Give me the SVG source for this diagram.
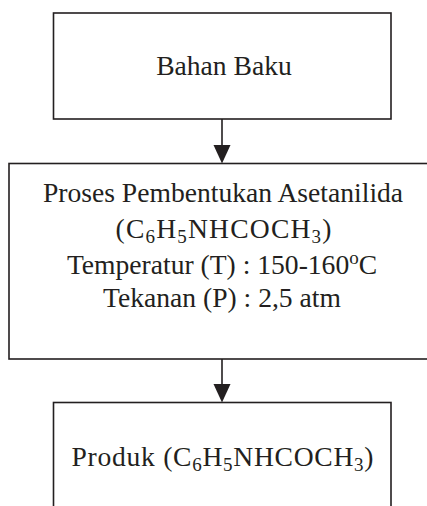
<svg xmlns="http://www.w3.org/2000/svg" width="427" height="506" viewBox="0 0 427 506">
  <style>
    .box { fill: #ffffff; stroke: #231f20; stroke-width: 1.6; }
    .wire { stroke: #231f20; stroke-width: 1.6; fill: none; }
    .head { fill: #231f20; stroke: none; }
    text { font-family: 'Liberation Serif', 'DejaVu Serif', serif; font-size: 27.6px; fill: #231f20; text-anchor: middle; }
    .sub { font-size: 19px; }
  </style>
  <rect x="0" y="0" width="427" height="506" fill="#ffffff"/>

  <g id="node-bahan-baku">
    <rect class="box" x="53.5" y="13" width="337.5" height="106"/>
    <text x="224" y="75">Bahan Baku</text>
  </g>

  <g id="node-proses">
    <rect class="box" x="9" y="163.5" width="440" height="195.5"/>
    <text x="223" y="202">Proses Pembentukan Asetanilida</text>
    <text x="223.5" y="238" textLength="216" lengthAdjust="spacing">(C<tspan class="sub" dy="5">6</tspan><tspan dy="-5">H</tspan><tspan class="sub" dy="5">5</tspan><tspan dy="-5">NHCOCH</tspan><tspan class="sub" dy="5">3</tspan><tspan dy="-5">)</tspan></text>
    <text x="222" y="274">Temperatur (T) : 150-160<tspan class="sub" dy="-10">o</tspan><tspan dy="10">C</tspan></text>
    <text x="222" y="307">Tekanan (P) : 2,5 atm</text>
  </g>

  <g id="node-produk">
    <rect class="box" x="53.5" y="402.5" width="337.5" height="130"/>
    <text x="222.5" y="466" textLength="302" lengthAdjust="spacing">Produk (C<tspan class="sub" dy="5">6</tspan><tspan dy="-5">H</tspan><tspan class="sub" dy="5">5</tspan><tspan dy="-5">NHCOCH</tspan><tspan class="sub" dy="5">3</tspan><tspan dy="-5">)</tspan></text>
  </g>

  <g id="connectors">
    <line class="wire" x1="222" y1="119" x2="222" y2="146"/>
    <polygon class="head" points="213.5,145 230.5,145 222,163.5"/>
    <line class="wire" x1="222" y1="359" x2="222" y2="385"/>
    <polygon class="head" points="213.5,384 230.5,384 222,402.5"/>
  </g>
</svg>
